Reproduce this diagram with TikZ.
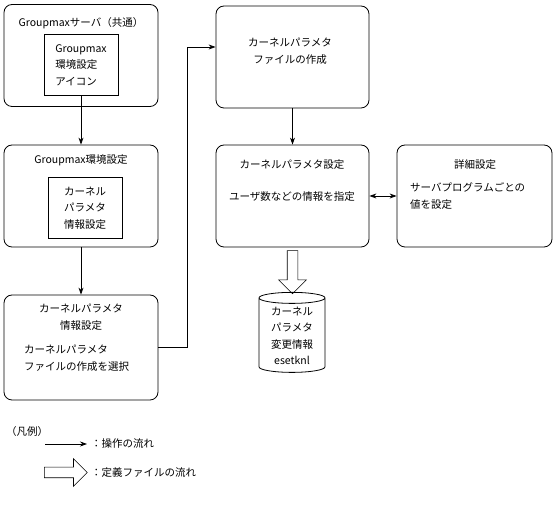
\documentclass[tikz,border=0pt]{standalone}
\usepackage{fontspec}
\setmainfont{Noto Sans CJK JP}
\usetikzlibrary{arrows.meta,shapes.geometric,shapes.arrows,positioning}

\tikzset{
  flowbox/.style={draw, rectangle, rounded corners=8pt, line width=0.8pt, minimum width=154pt, minimum height=102pt},
  innerbox/.style={draw, rectangle, line width=0.8pt, minimum width=74pt, minimum height=61pt, align=center},
  flow/.style={line width=0.8pt, -{Stealth[length=7pt,width=5pt]}},
  fatarrow/.style={draw, single arrow, line width=0.6pt, inner sep=5pt, single arrow head extend=8.5pt, minimum height=43pt},
  txt/.style={inner sep=0pt, align=center}
}

\begin{document}
\begin{tikzpicture}[x=1pt, y=-1pt, font=\fontsize{10.5}{16.5}\selectfont]
    \useasboundingbox (0,0) rectangle (555,518);

    % left column
    \node[flowbox] (server) at (81, 55.5) {};
    \node[txt] (servertitle) at (81, 23) {Groupmaxサーバ（共通）};
    \node[innerbox, align=left] (icon) at (81, 65) {Groupmax\\環境設定\\アイコン};

    \node[flowbox] (envset) at (81, 196) {};
    \node[txt] (envtitle) at (81, 160) {Groupmax環境設定};
    \node[innerbox] (envinfo) at (85, 208) {カーネル\\パラメタ\\情報設定};

    \node[flowbox, minimum height=105pt] (select) at (81, 347.5) {};
    \node[txt] (selecttitle) at (81, 317) {カーネルパラメタ\\情報設定};
    \node[txt, align=left, anchor=west] (selectbody) at (24, 358) {カーネルパラメタ\\ファイルの作成を選択};

    % right columns
    \node[flowbox, minimum width=153pt] (makefile) at (292.5, 57) {};
    \node[txt] (makefiletext) at (290, 51) {カーネルパラメタ\\ファイルの作成};

    \node[flowbox, minimum width=153pt] (kparam) at (292.5, 196) {};
    \node[txt] (kparamtitle) at (292, 165) {カーネルパラメタ設定};
    \node[txt] (kparambody) at (292, 197) {ユーザ数などの情報を指定};

    \node[flowbox, minimum width=155pt] (detail) at (474.5, 196) {};
    \node[txt] (detailtitle) at (475, 165) {詳細設定};
    \node[txt, align=left, anchor=west] (detailbody) at (410, 196) {サーバプログラムごとの\\値を設定};

    \node[draw, cylinder, shape border rotate=90, aspect=0.25, line width=0.8pt, minimum width=66pt, minimum height=80pt, align=center, inner sep=1pt] (kfile) at (292, 336) {カーネル\\パラメタ\\変更情報\\esetknl};

    % connectors
    \draw[flow] (icon.south) -- (envset.north);
    \draw[flow] (envset.south) -- (select.north);
    \draw[flow] (select.east) -- ++(29,0) |- ([yshift=10pt]makefile.west);
    \draw[flow] (makefile.south) -- (kparam.north);
    \draw[line width=0.8pt, {Stealth[length=7pt,width=5pt]}-{Stealth[length=7pt,width=5pt]}] (kparam.east) -- (detail.west);
    \node[fatarrow, shape border rotate=270, anchor=tail] (fileflow) at ([yshift=-3pt]kparam.south) {};

    % legend
    \node[txt, anchor=west] (legendtitle) at (6, 432) {（凡例）};
    \coordinate (legstart) at (45, 444);
    \coordinate (legend) at (87, 444);
    \draw[flow] (legstart) -- (legend);
    \node[txt, anchor=west] (legflow) at (91, 444) {：操作の流れ};
    \node[fatarrow, anchor=tail] (legarrow) at (44, 472.5) {};
    \node[txt, anchor=west] (legfile) at (91, 473) {：定義ファイルの流れ};
\end{tikzpicture}
\end{document}
